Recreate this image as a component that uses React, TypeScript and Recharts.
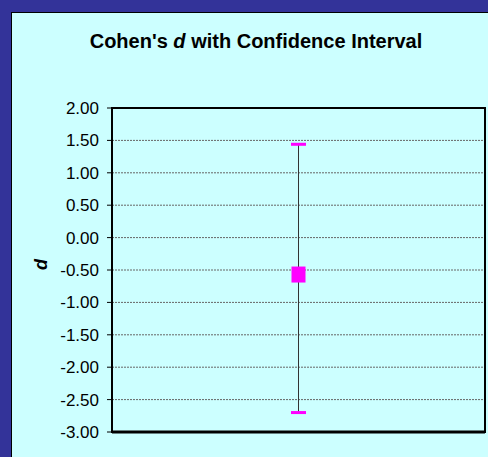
import {
  CartesianGrid,
  ComposedChart,
  ErrorBar,
  ReferenceArea,
  Scatter,
  XAxis,
  YAxis,
} from 'recharts';

const categories = [''];
const dValues = [-0.57];
const lowerValues = [-2.7];
const upperValues = [1.44];
const yTicks = [-3, -2.5, -2, -1.5, -1, -0.5, 0, 0.5, 1, 1.5, 2];

const data = categories.map((name, i) => ({
  name,
  d: dValues[i],
  lo: lowerValues[i],
  hi: upperValues[i],
  err: [dValues[i] - lowerValues[i], upperValues[i] - dValues[i]],
}));

const FONT = '"Liberation Sans", Arial, sans-serif';

const MeanMarker = (props: any) => (
  <rect x={props.cx - 7} y={props.cy - 8} width={14} height={16} fill="#FF00FF" />
);

const CapMarker = (props: any) => (
  <rect x={props.cx - 7.5} y={props.cy - 1.5} width={15} height={3} fill="#FF00FF" />
);

const NoMarker = () => <g />;

export default function App() {
  return (
    <div style={{ position: 'absolute', left: 0, top: 0, width: 488, height: 457, background: '#333399', overflow: 'hidden' }}>
      <div
        style={{
          position: 'absolute',
          left: 11,
          top: 12,
          width: 477,
          height: 445,
          background: '#CCFFFF',
          borderLeft: '1px solid #000',
          borderTop: '1px solid #000',
        }}
      />
      <div
        style={{
          position: 'absolute',
          left: 256,
          top: 30,
          transform: 'translateX(-50%)',
          whiteSpace: 'nowrap',
          fontFamily: FONT,
          fontWeight: 'bold',
          fontSize: 20,
          color: '#000',
        }}
      >
        Cohen's <i>d</i> with Confidence Interval
      </div>
      <div style={{ position: 'absolute', left: 0, top: 0 }}>
        <ComposedChart width={488} height={457} data={data} margin={{ top: 108, right: 3, bottom: 0, left: 0 }}>
          <CartesianGrid vertical={false} stroke="#666" strokeDasharray="2 1" />
          <XAxis dataKey="name" height={25} tick={false} tickLine={false} axisLine={{ stroke: '#000', strokeWidth: 3 }} />
          <YAxis
            type="number"
            domain={[-3, 2]}
            ticks={yTicks}
            interval={0}
            width={112}
            tickSize={5}
            tickMargin={8}
            tickFormatter={(v: number) => v.toFixed(2)}
            tick={{ fill: '#000', fontSize: 17, fontFamily: FONT }}
            tickLine={{ stroke: '#000' }}
            axisLine={{ stroke: '#000', strokeWidth: 2 }}
            label={{
              value: 'd',
              angle: -90,
              position: 'insideLeft',
              offset: 41,
              style: { fontFamily: FONT, fontWeight: 'bold', fontStyle: 'italic', fontSize: 18, fill: '#000' },
            }}
          />
          <ReferenceArea y1={-3} y2={2} fill="none" stroke="#000" strokeWidth={2} ifOverflow="visible" />
          <Scatter dataKey="d" shape={NoMarker} fill="#333333" isAnimationActive={false}>
            <ErrorBar dataKey="err" direction="y" width={0} stroke="#333333" strokeWidth={1} />
          </Scatter>
          <Scatter dataKey="d" shape={MeanMarker} isAnimationActive={false} />
          <Scatter dataKey="lo" shape={CapMarker} isAnimationActive={false} />
          <Scatter dataKey="hi" shape={CapMarker} isAnimationActive={false} />
        </ComposedChart>
      </div>
    </div>
  );
}
